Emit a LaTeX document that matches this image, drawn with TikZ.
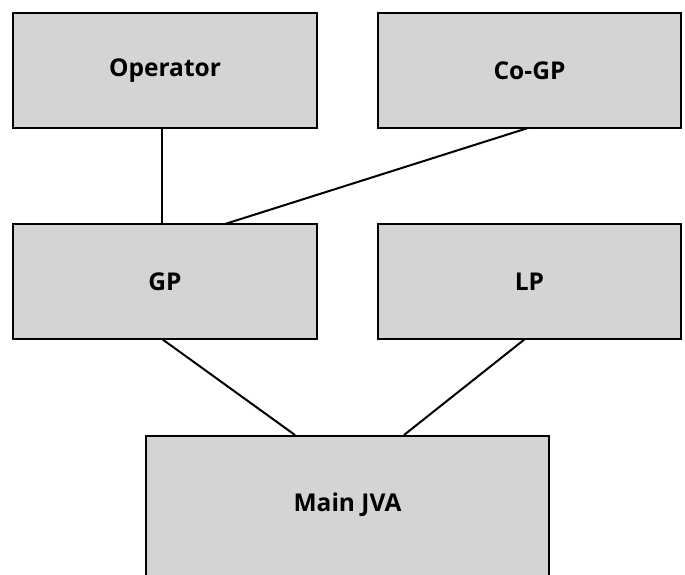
\documentclass[tikz,border=0pt]{standalone}
\usepackage{fontspec}
\setmainfont{Open Sans}
\definecolor{boxgray}{HTML}{D3D4D6}
\begin{document}
\begin{tikzpicture}[x=1pt,y=-1pt,
  lbl/.style={font=\fontsize{24.5}{28}\selectfont\bfseries},
  blk/.style={draw=black,fill=boxgray,line width=2.4pt,inner sep=0pt,lbl},
  conn/.style={line width=2pt}]
\clip (0,0) rectangle (685,574);
\useasboundingbox (0,0) rectangle (685,574);
\node[blk,minimum width=304,minimum height=115] (op) at (165,70.5) {Operator};
\node[blk,minimum width=303,minimum height=115] (co) at (529.5,70.5) {Co-GP};
\node[blk,minimum width=304,minimum height=115] (gp) at (165,281.5) {GP};
\node[blk,minimum width=303,minimum height=115] (lp) at (529.5,281.5) {LP};
\node[blk,minimum width=403,minimum height=180,anchor=north] (mj) at (347.5,435) {};
\node[lbl] (mjt) at (347.5,505) {Main JVA};
\coordinate (opb) at (162,128);
\coordinate (gpt) at (162,224);
\coordinate (cob) at (528,128);
\coordinate (gpt2) at (225,224);
\coordinate (gpb) at (162,339);
\coordinate (mjt1) at (295,435);
\coordinate (lpb) at (525,339);
\coordinate (mjt2) at (404,435);
\draw[conn] (opb) -- (gpt);
\draw[conn] (cob) -- (gpt2);
\draw[conn] (gpb) -- (mjt1);
\draw[conn] (lpb) -- (mjt2);
\end{tikzpicture}
\end{document}
